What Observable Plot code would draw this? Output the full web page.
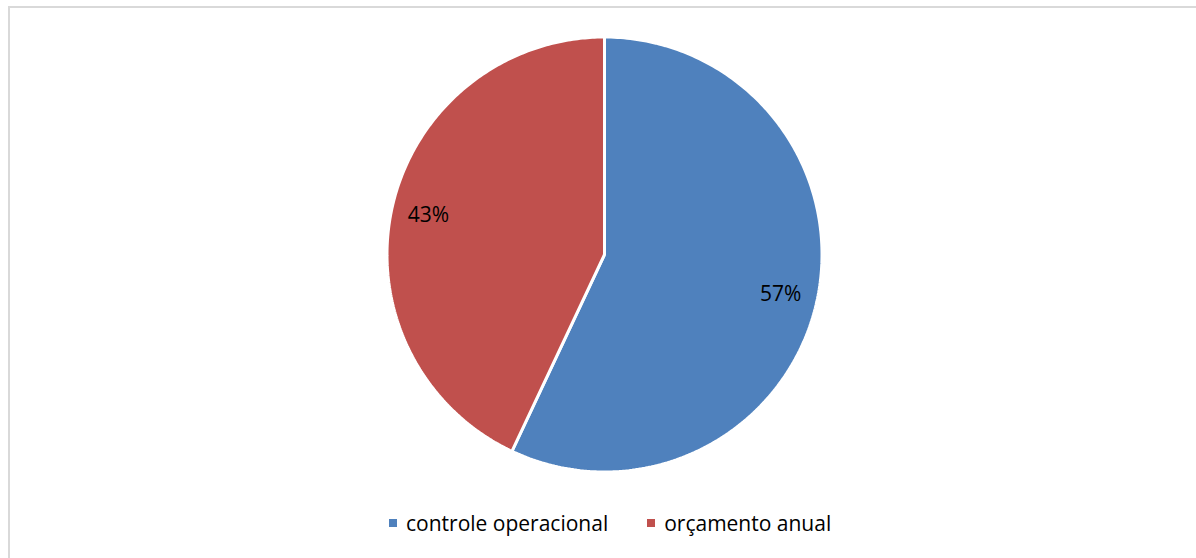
<!DOCTYPE html>
<html>
<head>
<meta charset="utf-8">
<script src="https://cdn.jsdelivr.net/npm/d3@7"></script>
<script src="https://cdn.jsdelivr.net/npm/@observablehq/plot@0.6"></script>
<style>
  html, body { margin: 0; padding: 0; background: #fff; width: 1196px; height: 558px; overflow: hidden; }
  #frame { position: absolute; left: 8px; top: 6px; width: 1300px; height: 700px; border: 2px solid #d9d9d9; box-sizing: border-box; }
  #chart { position: absolute; left: 0; top: 0; }
  #legend { position: absolute; left: 389px; top: 508px; display: flex; font-family: "Open Sans", sans-serif; font-size: 21px; line-height: 30px; color: #000; white-space: nowrap; }
  .item { display: flex; align-items: center; margin-right: 39px; }
  .sw { width: 8px; height: 8px; margin-right: 9px; }
</style>
</head>
<body>
<div id="frame"></div>
<div id="chart"></div>
<div id="legend"></div>
<script>
const categories = ["controle operacional", "orçamento anual"];
const values = [57, 43];
const labels = ["57%", "43%"];
const colors = ["#4F81BD", "#C0504D"];

const total = d3.sum(values);
let acc = 0;
const slices = categories.map((c, i) => {
  const a0 = acc / total * 2 * Math.PI;
  acc += values[i];
  const a1 = acc / total * 2 * Math.PI;
  return {name: c, value: values[i], label: labels[i], a0, a1};
});

function slicePoints(s) {
  const n = 240;
  const pts = [{x: 0, y: 0}];
  for (let k = 0; k <= n; k++) {
    const a = s.a0 + (s.a1 - s.a0) * k / n;
    pts.push({x: Math.sin(a), y: Math.cos(a)});
  }
  pts.push({x: 0, y: 0});
  return pts;
}

const labelData = slices.map(s => {
  const m = (s.a0 + s.a1) / 2;
  return {x: 0.83 * Math.sin(m), y: 0.83 * Math.cos(m), label: s.label};
});

const chart = Plot.plot({
  width: 1196,
  height: 500,
  marginLeft: 386.5,
  marginRight: 374.5,
  marginTop: 36.5,
  marginBottom: 28.5,
  x: {domain: [-1, 1], axis: null},
  y: {domain: [-1, 1], axis: null},
  style: {background: "transparent", fontFamily: "Open Sans, sans-serif"},
  marks: [
    ...slices.map((s, i) => Plot.line(slicePoints(s), {x: "x", y: "y", fill: colors[i], stroke: "white", strokeWidth: 3, strokeLinejoin: "miter"})),
    Plot.text(labelData, {x: "x", y: "y", text: "label", fontSize: 21, fill: "#000"})
  ]
});
document.getElementById("chart").appendChild(chart);

const legend = document.getElementById("legend");
categories.forEach((c, i) => {
  const it = document.createElement("div");
  it.className = "item";
  const sw = document.createElement("div");
  sw.className = "sw";
  sw.style.background = colors[i];
  const t = document.createElement("span");
  t.textContent = c;
  it.appendChild(sw);
  it.appendChild(t);
  legend.appendChild(it);
});
</script>
</body>
</html>
